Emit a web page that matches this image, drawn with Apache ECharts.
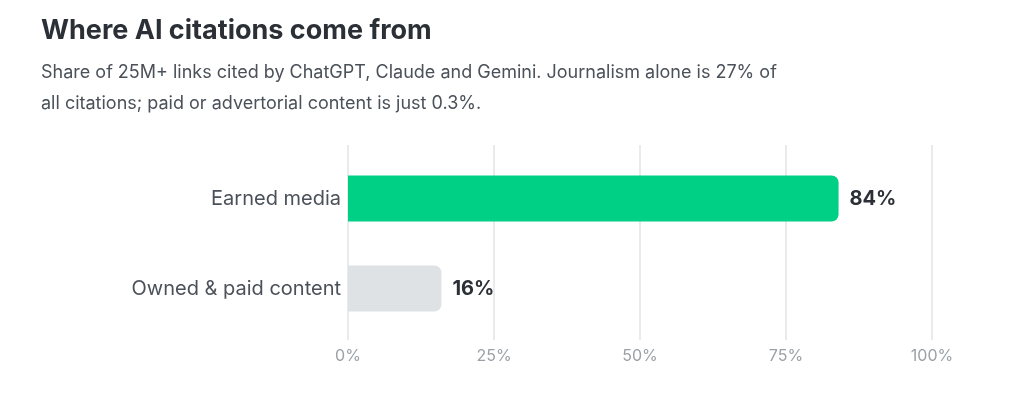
<!DOCTYPE html>
<html>
<head>
<meta charset="utf-8">
<script src="https://cdn.jsdelivr.net/npm/echarts@6/dist/echarts.min.js"></script>
<style>
  html, body { margin: 0; padding: 0; background: #fff; }
  #chart { width: 1024px; height: 401px; }
</style>
</head>
<body>
<div id="chart"></div>
<script>
// data
const CATEGORIES = ['Owned & paid content', 'Earned media'];
const SHARES = [16, 84];
const BAR_COLORS = ['#dfe2e5', '#00cf86'];
const TICKS = [0, 25, 50, 75, 100];

const FONT = 'Inter, "Noto Sans", sans-serif';

var myChart = echarts.init(document.getElementById('chart'));

myChart.setOption({
  animation: false,
  textStyle: { fontFamily: FONT },
  title: {
    text: 'Where AI citations come from',
    subtext: 'Share of 25M+ links cited by ChatGPT, Claude and Gemini. Journalism alone is 27% of\nall citations; paid or advertorial content is just 0.3%.',
    left: 41,
    top: 17,
    padding: 0,
    itemGap: 13,
    textStyle: {
      color: '#2b3036',
      fontSize: 27,
      fontWeight: 'bold',
      fontFamily: FONT
    },
    subtextStyle: {
      color: '#4b5159',
      fontSize: 18,
      lineHeight: 31,
      fontFamily: FONT
    }
  },
  grid: [
    // bars
    { left: 348, right: 92, top: 153.5, height: 180, containLabel: false },
    // background gridlines
    { left: 348, right: 92, top: 145, height: 195, containLabel: false }
  ],
  xAxis: [
    {
      gridIndex: 0,
      type: 'value',
      min: 0, max: 100, interval: 25,
      axisLine: { show: false },
      axisTick: { show: false },
      axisLabel: { show: false },
      splitLine: { show: false }
    },
    {
      gridIndex: 1,
      type: 'value',
      min: 0, max: 100, interval: 25,
      axisLine: { show: false },
      axisTick: { show: false },
      axisLabel: {
        color: '#9ba1a7',
        fontSize: 16,
        margin: 8,
        formatter: function (v) { return TICKS.indexOf(v) >= 0 ? v + '%' : ''; }
      },
      splitLine: { show: true, lineStyle: { color: '#e8eaec', width: 2 } }
    }
  ],
  yAxis: [
    {
      gridIndex: 0,
      type: 'category',
      data: CATEGORIES,
      axisLine: { show: false },
      axisTick: { show: false },
      axisLabel: { color: '#4b5159', fontSize: 20, margin: 7 }
    },
    {
      gridIndex: 1,
      type: 'category',
      data: [''],
      show: false
    }
  ],
  series: [
    {
      name: 'share',
      type: 'bar',
      xAxisIndex: 0,
      yAxisIndex: 0,
      barWidth: 46,
      z: 3,
      data: SHARES.map(function (v, i) {
        return { value: v, itemStyle: { color: BAR_COLORS[i] } };
      }),
      itemStyle: { borderRadius: [0, 7, 7, 0] },
      label: {
        show: true,
        position: 'right',
        distance: 11,
        formatter: '{c}%',
        color: '#2b3036',
        fontSize: 20,
        fontWeight: 'bold',
        fontFamily: FONT
      }
    }
  ]
});
</script>
</body>
</html>
